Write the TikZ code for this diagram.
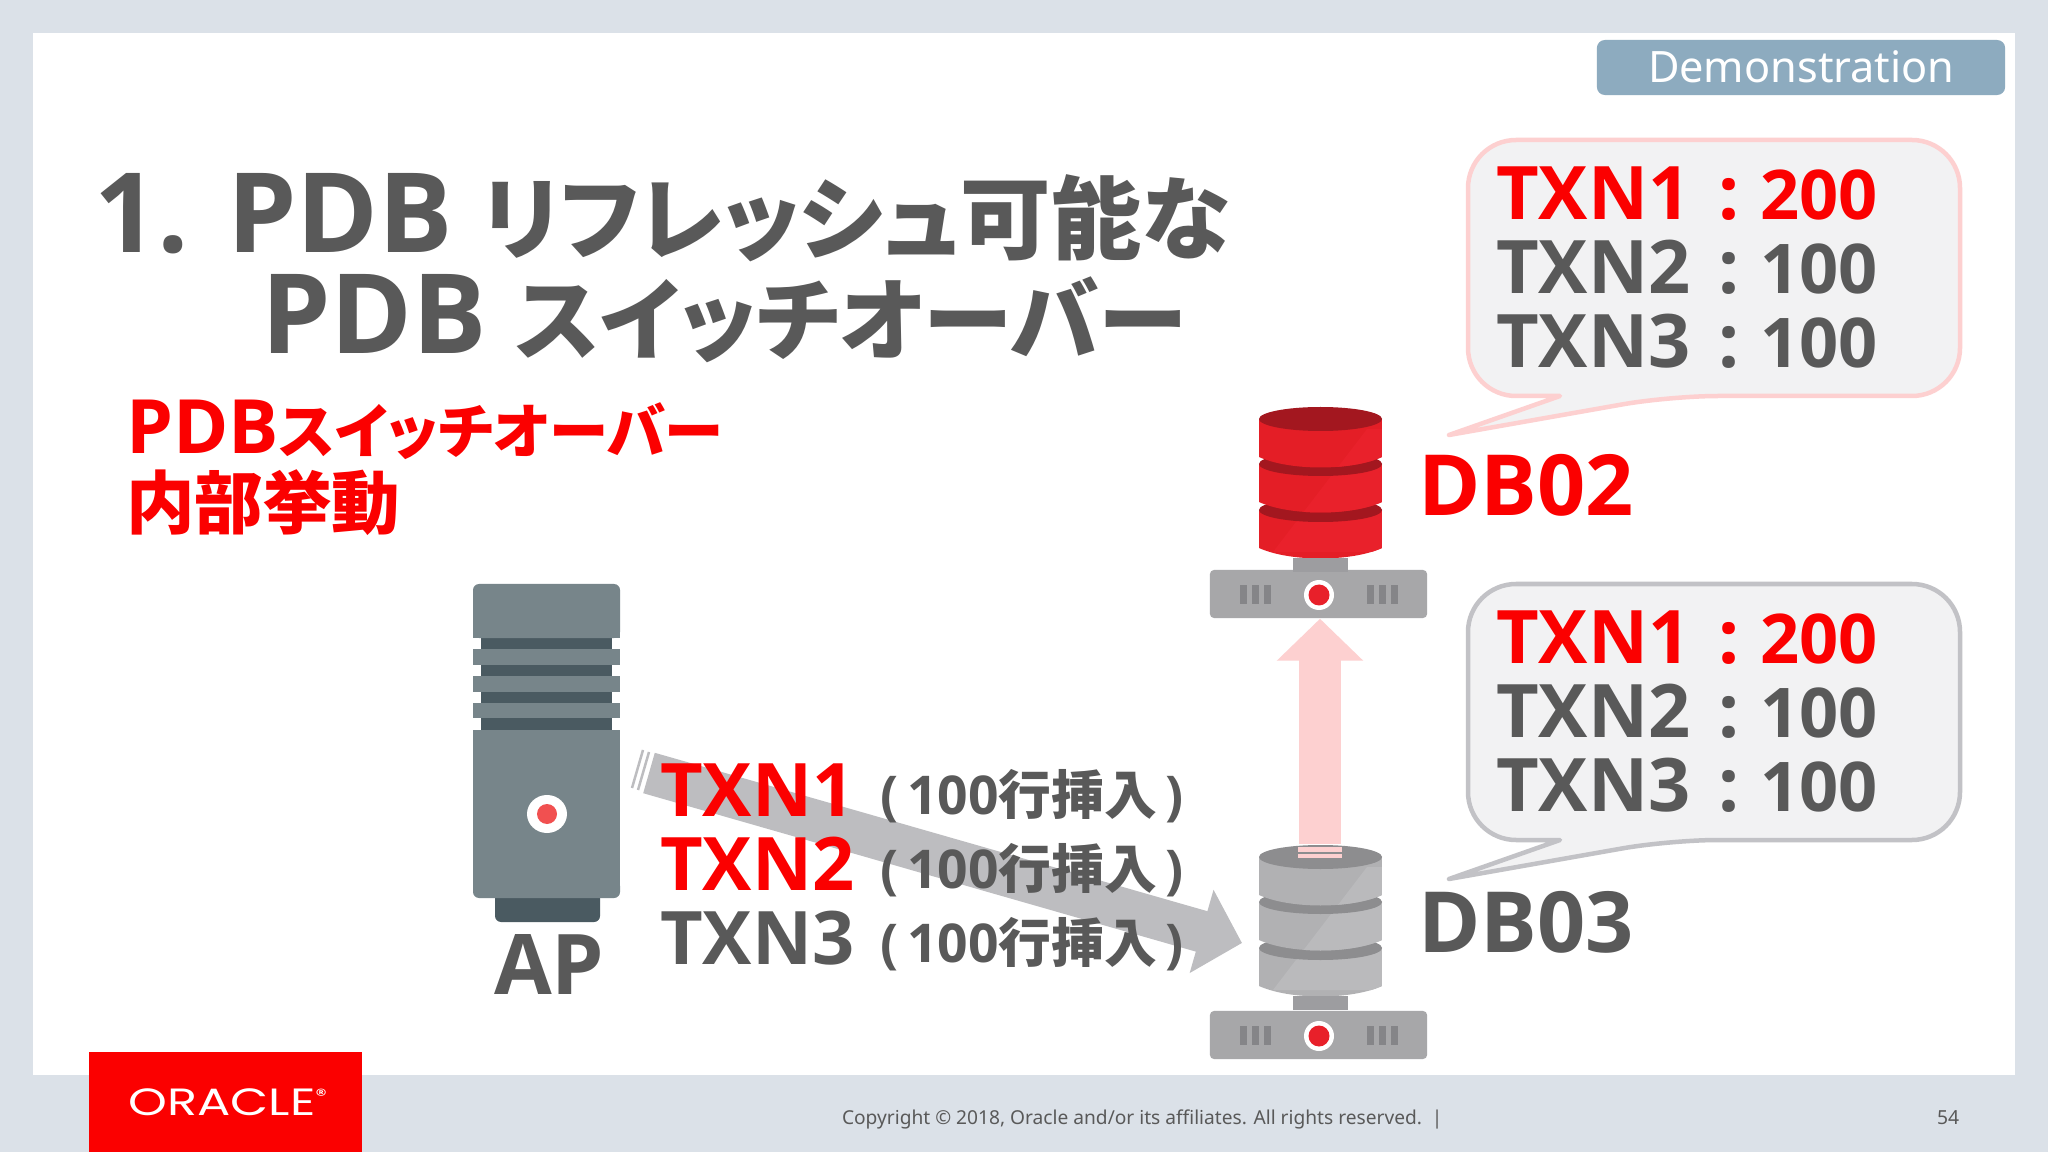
\documentclass[tikz,border=0pt]{standalone}
\usepackage{fontspec}
\usetikzlibrary{positioning, arrows.meta}
\setmainfont{Noto Sans}[BoldFont={Open Sans Bold}]
\newfontfamily\jpfont[RawFeature=+palt]{Noto Sans CJK JP}
\newfontfamily\logofont{Poppins}
\newcommand{\sz}[1]{\fontsize{#1}{#1}\selectfont}
\newcommand{\jp}[1]{{\jpfont\bfseries #1}}
\definecolor{slidebg}{HTML}{DBE1E8}
\definecolor{oraclered}{HTML}{FB0000}
\definecolor{textgray}{HTML}{595959}
\definecolor{demoblue}{HTML}{8DABBF}
\definecolor{pinkline}{HTML}{FDD0D0}
\definecolor{bubblefill}{HTML}{F2F2F3}
\definecolor{bubblegray}{HTML}{C2C2C6}
\definecolor{arrowgray}{HTML}{BDBDC0}
\definecolor{apbody}{HTML}{77858A}
\definecolor{apdark}{HTML}{4A5A61}
\definecolor{apdot}{HTML}{F15050}
\definecolor{srvgray}{HTML}{A7A7A9}
\definecolor{srvvent}{HTML}{858588}
\definecolor{dotred}{HTML}{E8202A}
\definecolor{dbred}{HTML}{E41E26}
\definecolor{dbredlight}{HTML}{E9212B}
\definecolor{dbreddark}{HTML}{A3171F}
\definecolor{dbgray}{HTML}{B1B1B3}
\definecolor{dbgraylight}{HTML}{BABABC}
\definecolor{dbgraydark}{HTML}{8D8D8F}
\newcommand{\dbdisc}[4]{% top y, side colour, top colour, y offset
  \begin{scope}
    \clip (1259,#1) -- (1259,#1+38) .. controls (1290,#1+52) and (1351,#1+52) .. (1382,#1+38) -- (1382,#1) -- cycle;
    \fill[#2] (1259,#1-20) rectangle (1382,#1+60);
    \fill[#2light] (1367,#4+429) -- (1273,#4+552) -- (1382,#4+552) -- (1382,#4+429) -- cycle;
  \end{scope}
  \fill[#3] (1320.5,#1) ellipse (61.5 and 12);
}
\newcommand{\dbstack}[3]{% y offset, side colour, top colour
  \dbdisc{#1+510}{#2}{#3}{#1}
  \dbdisc{#1+464}{#2}{#3}{#1}
  \dbdisc{#1+419}{#2}{#3}{#1}
  \fill[srvvent!80!white] (1293,#1+558) rectangle (1348,#1+572);
}
\newcommand{\srvdetail}[1]{% y offset
  \foreach \ventx in {1240,1252,1264,1367,1379,1391}
    \fill[srvvent] (\ventx,#1+585) rectangle (\ventx+7,#1+604);
  \fill[white] (1319,#1+595) circle (15);
  \fill[dotred] (1319,#1+595) circle (10.5);
}
\newlength{\pxlen}
\setlength{\pxlen}{0.01cm}
\newcommand{\txnrow}[3]{\textcolor{#1}{\sz{21}\bfseries\makebox[222\pxlen][l]{#2}\makebox[42\pxlen][l]{:}\sz{19.5}#3}}
\begin{document}
\begin{tikzpicture}[x=0.01cm,y=-0.01cm,
    txt/.style={anchor=base west, inner sep=0pt, outer sep=0pt},
    bigtxt/.style={txt, font=\sz{21}\bfseries},
    dbtxt/.style={txt, font=\sz{24}\bfseries},
    subtxt/.style={txt, text=textgray, font=\sz{15.2}\bfseries},
    bubble/.style={fill=bubblefill, line width=0.045cm, line join=round},
    server/.style={fill=srvgray, rounded corners=0.04cm, minimum width=2.17cm, minimum height=0.48cm, inner sep=0pt},
    bigarrow/.style={line width=0.42cm, -{Triangle[length=0.42cm, width=0.84cm]}},
  ]
  \useasboundingbox (0,0) rectangle (2048,1152);
  \fill[slidebg] (0,0) rectangle (2048,1152);
  \fill[white] (33,33) rectangle (2015,1075);

  % header and footer
  \node[fill=demoblue, rounded corners=0.08cm, minimum width=4.08cm, minimum height=0.55cm, inner sep=0pt] (demo) at (1801,67.5) {};
  \node[txt, text=white, font=\sz{12.3}] (demotxt) at (1648,83) {Demonstration};
  \node[fill=oraclered, minimum width=2.73cm, minimum height=1cm, inner sep=0pt] (logobox) at (225.5,1102) {};
  \node[text=white, font=\logofont\sz{10.8}, xscale=1.3, transform shape, inner sep=0pt] (logotxt) at (229,1102) {ORACLE\textsuperscript{\sz{5}®}};
  \node[txt, text=textgray, font=\sz{5.45}] (copyright) at (842,1124) {Copyright © 2018, Oracle and/or its affiliates. All rights reserved.\ \ |};
  \node[txt, text=textgray, font=\sz{5.5}] (pagenum) at (1937,1124) {54};

  % title
  \node[txt, text=textgray, font=\sz{31.5}\bfseries] (title1) at (94,253) {1. PDB \jp{\sz{25.7}リフレッシュ可能な}};
  \node[txt, text=textgray, font=\sz{31.5}\bfseries] (title2) at (261,354) {PDB \jp{\sz{25.5}スイッチオーバー}};
  \node[txt, text=oraclered, font=\sz{21.3}\bfseries] (sub1) at (126,454) {PDB\jp{\sz{16.9}スイッチオーバー}};
  \node[txt, text=oraclered, font=\sz{20.5}\bfseries] (sub2) at (126,529) {\jp{\sz{19.5}内部挙動}};

  % AP
  \fill[apdark] (481,638) rectangle (612,730);
  \fill[apdark, rounded corners=0.06cm] (495,890) rectangle (600,922);
  \fill[apbody, rounded corners=0.06cm] (473,584) rectangle (620,638);
  \fill[apbody] (473,625) rectangle (620,638);
  \fill[apbody] (473,649) rectangle (620,665);
  \fill[apbody] (473,676) rectangle (620,692);
  \fill[apbody] (473,703) rectangle (620,718);
  \fill[apbody] (473,730) rectangle (620,890);
  \fill[apbody, rounded corners=0.06cm] (473,880) rectangle (620,898);
  \fill[white] (547,814) ellipse (20 and 19);
  \fill[apdot] (547,814) circle (10);
  \node[txt, text=textgray, font=\sz{23.8}\bfseries] (aplabel) at (494,994) {AP};

  % servers, arrows, databases
  \node[server] (srvTwo) at (1318.5,594) {};
  \node[server] (srvThree) at (1318.5,1035) {};
  \srvdetail{0}
  \srvdetail{441}
  \coordinate (txnstart) at (649,773);
  \coordinate (txnend) at (1242,943);
  \draw[bigarrow, arrowgray] (txnstart) -- (txnend);
  \draw[arrowgray, line width=0.025cm] (643,750) -- (632,788);
  \draw[arrowgray, line width=0.025cm] (649,752) -- (638,790);
  \dbstack{0}{dbred}{dbreddark}
  \dbstack{438}{dbgray}{dbgraydark}
  \coordinate (syncstart) at (1320,844);
  \draw[bigarrow, pinkline] (syncstart) -- (syncstart |- srvTwo.south);
  \fill[pinkline] (1298,847) rectangle (1342,852);
  \fill[pinkline] (1298,854) rectangle (1342,858);

  % transactions
  \node[bigtxt, text=oraclered] (txn1) at (660,816) {TXN1};
  \node[bigtxt, text=oraclered] (txn2) at (660,890) {TXN2};
  \node[bigtxt, text=textgray] (txn3) at (660,964) {TXN3};
  \node[subtxt] (ins1) at (880,814) {(\,100\jp{\sz{15}行挿入}\,)};
  \node[subtxt] (ins2) at (880,888) {(\,100\jp{\sz{15}行挿入}\,)};
  \node[subtxt] (ins3) at (880,962) {(\,100\jp{\sz{15}行挿入}\,)};

  % db labels
  \node[dbtxt, text=oraclered] (db2label) at (1418,515) {DB02};
  \node[dbtxt, text=textgray] (db3label) at (1418,952) {DB03};

  % bubbles
  \draw[bubble, draw=pinkline] (1449,435) -- (1560,396) [rounded corners=0.48cm] -- (1468,396) -- (1468,140) -- (1960,140) -- (1960,396) -- (1670,396) [sharp corners] -- cycle;
  \node[txt] (b2r1) at (1496,220) {\txnrow{oraclered}{TXN1}{200}};
  \node[txt] (b2r2) at (1496,294) {\txnrow{textgray}{TXN2}{100}};
  \node[txt] (b2r3) at (1496,368) {\txnrow{textgray}{TXN3}{100}};
  \draw[bubble, draw=bubblegray] (1449,879) -- (1560,840) [rounded corners=0.48cm] -- (1468,840) -- (1468,584) -- (1960,584) -- (1960,840) -- (1670,840) [sharp corners] -- cycle;
  \node[txt] (b3r1) at (1496,663) {\txnrow{oraclered}{TXN1}{200}};
  \node[txt] (b3r2) at (1496,737) {\txnrow{textgray}{TXN2}{100}};
  \node[txt] (b3r3) at (1496,811) {\txnrow{textgray}{TXN3}{100}};
\end{tikzpicture}
\end{document}
